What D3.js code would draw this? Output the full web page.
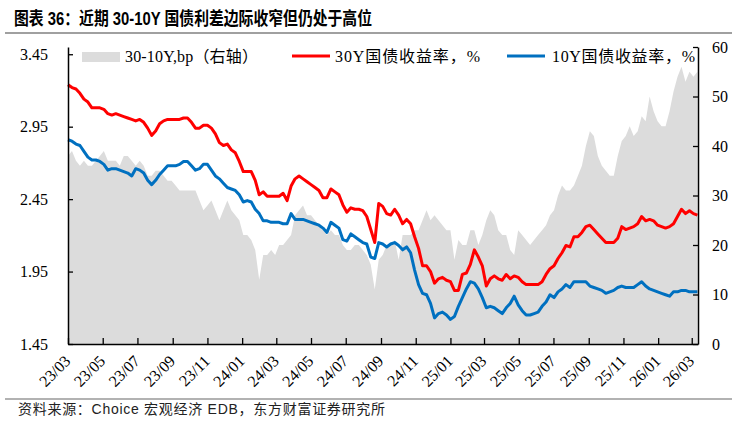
<!DOCTYPE html>
<html>
<head>
<meta charset="utf-8">
<script src="https://cdn.jsdelivr.net/npm/d3@7"></script>
<style>
  body { margin: 0; background: #fff; }
  svg { display: block; }
</style>
</head>
<body>
<svg id="chart" width="737" height="422"></svg>
<script>
// weekly readings, first week = 2023-03-01
const START = new Date(2023, 2, 1)
const END = new Date(2026, 2, 12)

// 30-10Y spread, bp (right axis)
const spread = [
  38, 39, 37, 36, 37, 36, 36, 37, 38, 39, 37, 37, 37, 36, 38, 38, 37, 36, 37, 36,
  34, 34, 35, 35, 34, 33, 33, 32, 31, 31, 31, 31, 31, 29, 27, 28, 29, 27, 25, 27,
  29, 27, 26, 25, 22, 22, 21, 19, 13, 18, 18, 19, 18, 20, 20, 21, 22, 26, 27, 28,
  26, 26, 25, 24, 23, 22, 23, 22, 22, 20, 19, 19, 20, 20, 19, 18, 16, 11, 17, 18,
  20, 20, 21, 17, 22, 22, 22, 23, 23, 25, 27, 25, 26, 25, 24, 23, 23, 17, 21, 20,
  20, 23, 23, 20, 22, 25, 27, 26, 23, 22, 22, 19, 18, 23, 22, 21, 20, 21, 22, 23,
  24, 26, 27, 30, 32, 31, 31, 32, 34, 36, 40, 43, 42, 38, 36, 35, 34, 34, 38, 41,
  42, 44, 42, 43, 46, 45, 50, 47, 45, 44, 44, 47, 51, 54, 56, 53, 55, 54, 55
]

// 30Y government bond yield, %
const y30 = [
  3.24, 3.22, 3.21, 3.18, 3.14, 3.12, 3.08, 3.08, 3.08, 3.07, 3.04, 3.03, 3.04, 3.03, 3.02, 3.01, 3.00, 2.99, 3.00, 2.98,
  2.94, 2.89, 2.92, 2.97, 2.99, 3.00, 3.00, 3.00, 3.00, 3.01, 3.01, 2.98, 2.94, 2.94, 2.96, 2.96, 2.94, 2.90, 2.84, 2.82,
  2.83, 2.79, 2.77, 2.71, 2.64, 2.64, 2.64, 2.58, 2.48, 2.50, 2.47, 2.47, 2.47, 2.47, 2.49, 2.44, 2.54, 2.59, 2.61, 2.59,
  2.57, 2.55, 2.53, 2.51, 2.46, 2.46, 2.52, 2.50, 2.48, 2.41, 2.36, 2.39, 2.38, 2.38, 2.37, 2.33, 2.24, 2.15, 2.42, 2.40,
  2.35, 2.34, 2.38, 2.34, 2.28, 2.31, 2.28, 2.19, 2.11, 1.99, 1.99, 1.95, 1.87, 1.90, 1.91, 1.89, 1.88, 1.82, 1.82, 1.93,
  1.94, 2.00, 2.10, 2.05, 1.99, 1.85, 1.90, 1.92, 1.90, 1.89, 1.93, 1.90, 1.92, 1.91, 1.88, 1.86, 1.86, 1.86, 1.86, 1.88,
  1.93, 1.97, 1.99, 2.04, 2.08, 2.13, 2.12, 2.19, 2.19, 2.22, 2.26, 2.27, 2.24, 2.21, 2.18, 2.15, 2.15, 2.15, 2.18, 2.26,
  2.24, 2.25, 2.26, 2.28, 2.33, 2.30, 2.31, 2.30, 2.27, 2.26, 2.25, 2.26, 2.28, 2.33, 2.38, 2.35, 2.37, 2.35, 2.34
]

// 10Y government bond yield, %
const y10 = [
  2.86, 2.85, 2.83, 2.82, 2.78, 2.74, 2.72, 2.72, 2.71, 2.69, 2.65, 2.66, 2.66, 2.65, 2.64, 2.63, 2.61, 2.66, 2.65, 2.63,
  2.58, 2.55, 2.58, 2.62, 2.65, 2.68, 2.68, 2.68, 2.69, 2.71, 2.71, 2.68, 2.65, 2.66, 2.69, 2.69, 2.65, 2.61, 2.59, 2.56,
  2.53, 2.52, 2.51, 2.48, 2.43, 2.44, 2.43, 2.38, 2.35, 2.30, 2.30, 2.29, 2.29, 2.29, 2.28, 2.28, 2.35, 2.31, 2.31, 2.31,
  2.30, 2.29, 2.28, 2.27, 2.25, 2.22, 2.29, 2.27, 2.25, 2.17, 2.16, 2.21, 2.19, 2.17, 2.15, 2.14, 2.05, 2.04, 2.15, 2.14,
  2.12, 2.14, 2.15, 2.13, 2.10, 2.12, 2.08, 1.96, 1.86, 1.80, 1.79, 1.73, 1.63, 1.66, 1.67, 1.65, 1.62, 1.64, 1.71, 1.77,
  1.83, 1.88, 1.87, 1.83, 1.77, 1.70, 1.71, 1.70, 1.68, 1.66, 1.70, 1.73, 1.78, 1.72, 1.68, 1.65, 1.65, 1.66, 1.67, 1.71,
  1.74, 1.79, 1.77, 1.81, 1.83, 1.86, 1.84, 1.88, 1.88, 1.88, 1.88, 1.85, 1.84, 1.83, 1.82, 1.80, 1.81, 1.82, 1.84, 1.85,
  1.84, 1.84, 1.84, 1.86, 1.88, 1.85, 1.83, 1.82, 1.81, 1.80, 1.79, 1.78, 1.81, 1.81, 1.82, 1.82, 1.81, 1.81, 1.81
]

const xTickLabels = ['23/03', '23/05', '23/07', '23/09', '23/11', '24/01', '24/03', '24/05', '24/07',
  '24/09', '24/11', '25/01', '25/03', '25/05', '25/07', '25/09', '25/11', '26/01', '26/03']
const leftTicks = [1.45, 1.95, 2.45, 2.95, 3.45]
const rightTicks = [0, 10, 20, 30, 40, 50, 60]

const TITLE = '图表 36：近期 30-10Y 国债利差边际收窄但仍处于高位'
const SOURCE = '资料来源：Choice 宏观经济 EDB，东方财富证券研究所'
const LEGEND = ['30-10Y,bp（右轴）', '30Y国债收益率，%', '10Y国债收益率，%']

const RED = '#ff0000'
const BLUE = '#0070c0'
const GREY = '#dcdcdc'
const SERIF = '"Liberation Serif", "Times New Roman", "Noto Sans CJK SC", serif'

const X0 = 68
const X1 = 698
const Y0 = 344
const Y1 = 47

const svg = d3.select('#chart')

const dates = y30.map((d, i) => d3.timeDay.offset(START, i * 7))
const tickDates = xTickLabels.map(s => new Date(2000 + +s.slice(0, 2), +s.slice(3) - 1, 1))

const x = d3.scaleTime().domain([START, END]).range([X0, X1])
const yL = d3.scaleLinear().domain([1.45, 3.5]).range([Y0, Y1])
const yR = d3.scaleLinear().domain([0, 60]).range([Y0, Y1])

// title + rules
svg.append('text')
  .attr('x', 14)
  .attr('y', 25)
  .attr('font-family', '"Liberation Sans", Arial, "Noto Sans CJK SC", sans-serif')
  .attr('font-weight', 'bold')
  .attr('font-size', 18)
  .attr('textLength', 358)
  .attr('lengthAdjust', 'spacingAndGlyphs')
  .text(TITLE)

svg.append('line')
  .attr('x1', 5).attr('x2', 732)
  .attr('y1', 33).attr('y2', 33)
  .attr('stroke', '#a0a0a0')
  .attr('stroke-width', 2)

svg.append('line')
  .attr('x1', 5).attr('x2', 732)
  .attr('y1', 399).attr('y2', 399)
  .attr('stroke', '#999')
  .attr('stroke-width', 1.5)

svg.append('text')
  .attr('x', 18)
  .attr('y', 414)
  .attr('font-family', '"Liberation Sans", Arial, "Noto Sans CJK SC", sans-serif')
  .attr('font-size', 14)
  .attr('fill', '#222')
  .attr('textLength', 367)
  .attr('lengthAdjust', 'spacing')
  .text(SOURCE)

// spread area
const area = d3.area()
  .x((d, i) => x(dates[i]))
  .y0(yR(0))
  .y1(d => yR(d))

svg.append('path')
  .datum(spread)
  .attr('fill', GREY)
  .attr('d', area)

const lineL = d3.line()
  .x((d, i) => x(dates[i]))
  .y(d => yL(d))

svg.append('path')
  .datum(y10)
  .attr('fill', 'none')
  .attr('stroke', BLUE)
  .attr('stroke-width', 3)
  .attr('stroke-linejoin', 'round')
  .attr('d', lineL)

svg.append('path')
  .datum(y30)
  .attr('fill', 'none')
  .attr('stroke', RED)
  .attr('stroke-width', 3)
  .attr('stroke-linejoin', 'round')
  .attr('d', lineL)

// axes
function styleAxis (g) {
  g.attr('font-family', SERIF).attr('font-size', 16)
  g.selectAll('.domain').attr('stroke', '#000').attr('stroke-width', 1.5)
  g.selectAll('.tick line').attr('stroke', '#000').attr('stroke-width', 1.3)
  g.selectAll('.tick text').attr('fill', '#000')
}

svg.append('g')
  .attr('transform', `translate(${X0},0)`)
  .call(d3.axisLeft(yL).tickValues(leftTicks).tickFormat(d3.format('.2f'))
    .tickSize(-5).tickSizeOuter(0).tickPadding(20))
  .call(styleAxis)

svg.append('g')
  .attr('transform', `translate(${X1},0)`)
  .call(d3.axisRight(yR).tickValues(rightTicks)
    .tickSize(-5).tickSizeOuter(0).tickPadding(14))
  .call(styleAxis)

const xAxis = svg.append('g')
  .attr('transform', `translate(0,${Y0})`)
  .call(d3.axisBottom(x).tickValues(tickDates).tickFormat((d, i) => xTickLabels[i])
    .tickSize(-6).tickSizeOuter(0))
  .call(styleAxis)

xAxis.selectAll('.tick text')
  .attr('x', 0)
  .attr('y', 0)
  .attr('dy', 0)
  .attr('text-anchor', 'end')
  .attr('transform', 'translate(3,18) rotate(-45)')

// legend
const legend = svg.append('g')
  .attr('font-family', SERIF)
  .attr('font-size', 16)

legend.append('rect')
  .attr('x', 82).attr('y', 52)
  .attr('width', 38).attr('height', 10)
  .attr('fill', GREY)

const legendLines = [
  { x: 292, color: RED },
  { x: 507, color: BLUE }
]
legendLines.forEach(d => {
  legend.append('line')
    .attr('x1', d.x).attr('x2', d.x + 38)
    .attr('y1', 56).attr('y2', 56)
    .attr('stroke', d.color)
    .attr('stroke-width', 3)
})

const legendX = [125, 335, 552]
const legendW = [133, 145, 143]
LEGEND.forEach((t, i) => {
  legend.append('text')
    .attr('x', legendX[i])
    .attr('y', 62)
    .attr('textLength', legendW[i])
    .attr('lengthAdjust', 'spacing')
    .text(t)
})
</script>
</body>
</html>
